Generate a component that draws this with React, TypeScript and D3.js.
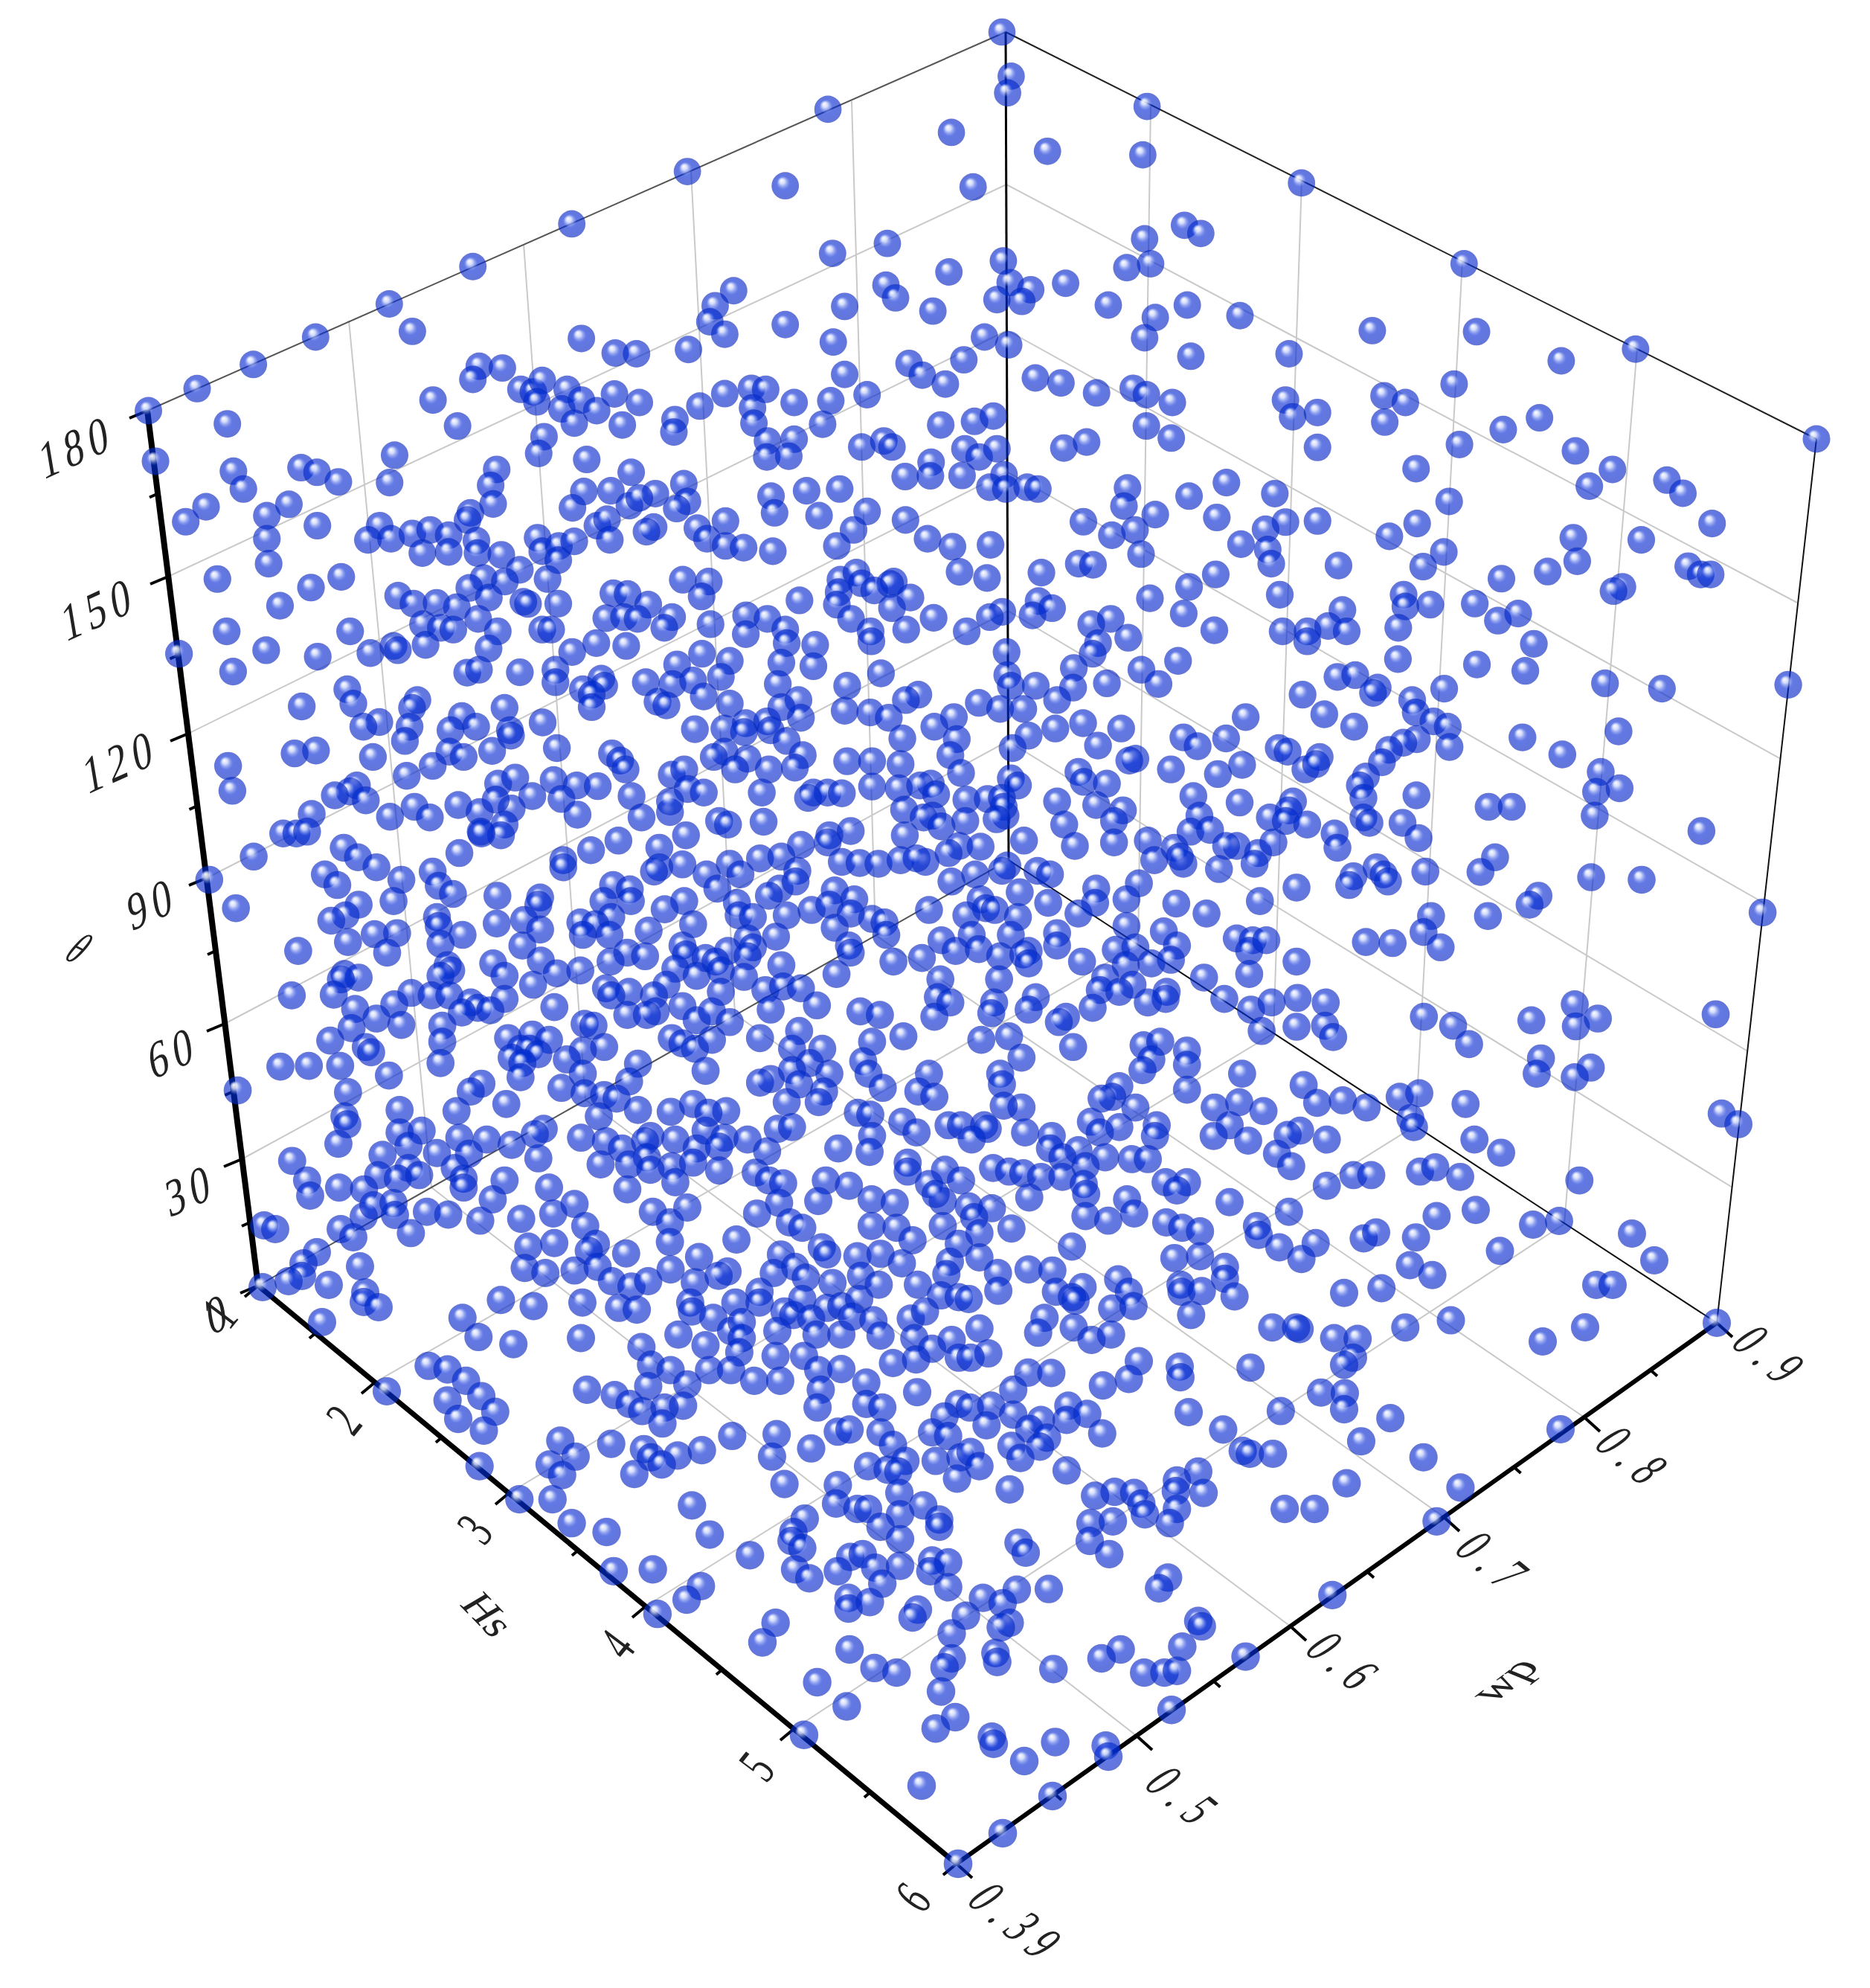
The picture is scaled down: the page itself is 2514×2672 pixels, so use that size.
import React, { useMemo } from "react";
import * as d3 from "d3";

// ---- axis ticks -----------------------------------------------------------
const hsMajor = [1, 2, 3, 4, 5, 6];
const hsAll = [1, 1.5, 2, 2.5, 3, 3.5, 4, 4.5, 5, 5.5, 6];
const wpMajor = [0.39, 0.5, 0.6, 0.7, 0.8, 0.9];
const wpMinor = [0.45, 0.55, 0.65, 0.75, 0.85];
const thetaMajor = [0, 30, 60, 90, 120, 150, 180];
const thetaMinor = [15, 45, 75, 105, 135, 165];

const tileA = [208,945,345,883,503,815,678,738,885,645,1120,540,1398,420,430,982,228,1087,950,722,1425,742,1520,783,1580,785,1138,820,1203,825,1120,857,1008,915,1077,988,1255,885,1290,892,1315,860,1385,885,1300,920,1370,940,1425,915,1405,980,1468,945,1518,898,1540,985,1320,1018,1305,1065,1440,1082,900,1070,886,1147,1187,1110,1170,1155,1177,1207,1113,1232,1105,1252,1565,1118,447,1115,475,1165,637,1105,682,1118,742,1145,370,1215,313,1257,603,1208,541,1240,683,1268,541,1305,546,1375,402,1418,665,1442,750,1412,578,1493,428,1565,1432,1172,1508,1170,1400,1218,1560,1212,1470,1268,1497,1250,1505,1308,858,1268,825,1308,890,1305,950,1290,1000,1280,1052,1295,978,1345,1052,1342,1130,1310,1133,1345,1200,1350,1252,1392,1302,1302,1315,1340,1362,1325,1405,1312,1360,1365,1330,1418,1150,1415,1110,1443,1210,1425,1165,1470,910,1465,953,1487,1018,1485,1075,1497,1135,1530,1262,1482,1275,1488,1360,1487,1515,1458,1555,1460,1495,1528,1545,1525,980,1545,1030,1555,1065,1560,1190,1565,1315,1560,1340,1560,775,1565];
const tileB = [1065,5,1055,52,550,98,1447,90,155,273,897,163,1167,216,1435,226,430,313,958,316,1552,424,1440,462,563,503,717,475,1043,524,1390,543,1457,532,890,555,1218,587,285,608,233,650,713,592,740,628,1062,585,1120,605,1025,633,1095,638,1338,648,597,652,845,665,1560,648,218,695,260,730,430,703,1470,683,1440,740,565,752,990,738,1058,760,158,773,15,793,1570,792,778,812,815,845,932,802,597,843,880,870,1133,853,1205,867,1305,895,1408,882,1445,900,1518,922,20,922,260,897,335,882,375,885,190,932,338,937,455,922,558,917,660,900,120,970,117,1005,342,980,535,983,867,985,962,975,1015,960,1445,988,1515,1022,380,1030,455,1025,378,1075,440,1073,645,1047,707,1030,730,1047,840,1090,838,1128,935,1052,975,1075,1025,1052,1213,1050,1277,1033,767,1130,927,1127,1045,1125,1005,1160,1050,1165,1110,1160,1140,1165,10,1117,145,1150,65,1178,20,1190,155,1200,125,1220,490,1170,583,1165,390,1185,400,1232,525,1240,660,1228,768,1252,1392,1162,1382,1213,1470,1237,1268,1257,1348,1295,1413,1280,1565,1185,15,1225,60,1272,40,1285,183,1275,262,1255,210,1305,262,1325,313,1330,395,1340,622,1280,575,1325,830,1305,900,1327,1007,1322,1430,1348,1255,1375,1295,1378,142,1420,215,1425,195,1467,585,1420,630,1400,645,1430,735,1425,725,1432,920,1398,997,1415,1150,1400,680,1450,470,1478,580,1455,575,1490,782,1470,730,1500,1142,1480,1455,1472,1565,1440,45,1490,10,1470,15,1530,112,1525,90,1555,320,1520,380,1530,615,1530,847,1527,1040,1510,1005,1525,1125,1520,1180,1500,1550,1515,1345,1530,1290,1545,220,1545,430,1560,670,1565,770,1560,940,1565];
const tileC = [313,305,770,532,1252,772,30,447,5,415,10,648,140,678,512,720,805,723,278,785,5,792,1043,805,742,870,545,903,605,922,268,915,288,962,358,950,547,977,880,998,982,965,757,1040,358,1048,1083,1058,1187,1110,1122,1157,635,1108,1340,1140,1385,1177,728,1200,102,1147,238,1178,5,1183,75,1245,268,1258,358,1255,212,1278,638,1262,560,1298,1467,1262,1077,1302,1268,1308,143,1320,218,1335,228,1375,713,1342,655,1383,417,1380,875,1417,1005,1397,1088,1368,1400,1382,1435,1405,1463,1405,72,1405,15,1440,252,1462,1215,1440,1190,1452,600,1462,605,1495,675,1490,428,1505,800,1487,865,1535,922,1515,5,1510,68,1562,585,1555,388,1550,260,1565,330,1565,440,1565];
const tileD = [85,60,220,5,330,50,475,68,565,20,623,58,688,38,700,50,778,35,855,5,955,45,978,10,1115,10,1190,55,1258,30,1342,38,1450,0,1555,60,237,110,895,113,928,105,1043,112,1143,105,1143,140,1485,90,558,160,575,200,430,208,755,190,740,212,1000,212,1272,130,1220,160,1280,150,1245,175,1245,210,1397,140,1472,145,1530,135,1430,195,1455,205,1560,180,880,235,648,252,603,265,733,265,720,305,848,275,920,265,1015,275,1107,253,1535,272,1018,290,470,332,410,340,630,350,845,335,885,350,965,333,1147,325,1302,340,1325,360,1340,385,223,375,798,375,725,403,235,445,585,430,565,447,523,458,610,472,982,425,1030,408,1138,415,1078,460,1203,430,1262,432,1160,468,1357,460,1470,400,1505,385,1515,440,1560,450,870,485,458,510,747,490,678,518,790,520,930,505,1020,495,975,470,1205,512,1385,520,1465,505,1465,475,1510,570,378,565,415,565,445,560,933,560,1000,540,990,570,935,565,1320,585,1243,612,1435,605,548,605,588,632,295,630,640,660,873,620,1165,640,1165,660,1500,652,1435,660,1420,672,1568,680,170,695,495,680,710,695,530,710,798,672,815,712,855,735,980,740,1100,745,1305,710,1352,722,1355,755,688,755,1095,765,245,775,590,765,553,795,513,810,810,800,815,825,1055,808,1278,755,1300,800,1505,755,1450,778,978,818,1213,815,1255,820,1100,835,635,848,698,845,882,850,1405,838,1295,850,1530,820,1220,850,560,870,820,875,1050,880,670,900,420,895,1345,900,1395,910,1500,880,1298,925,1102,922,840,935,968,930,1510,905,1565,915,1480,945,550,960,590,970,540,975,520,1018,850,950,820,965,1000,965,1147,958,1213,950,1080,990,1285,1000,1540,965,1455,990,402,1020,738,1013,795,1020,845,1020,1000,1030,905,1040,690,1045,580,1058,640,1085,925,1055,960,1062,880,1068,710,1103,1140,1053,1350,1010,1300,1020,1420,1020,1500,1050,1345,1075,1425,1065,1400,1075,1225,1100,1250,1105,825,1105,570,1112,1540,1090,1010,1140,1078,1130,1125,1145,510,1147,610,1165,825,1150,1280,1165,1220,1175,1045,1170,625,1180,1070,1170,1095,1185,1175,1200,1020,1195,1470,1140,1500,1155,1535,1170,370,1220,450,1218,538,1218,820,1210,1050,1210,1375,1212,1220,1240,1565,1232,1350,1262,675,1245,1045,1250,935,1268,905,1290,1160,1280,250,1287,560,1292,1225,1295,1280,1300,1315,1310,1005,1325,865,1345,705,1342,1375,1342,1467,1347,1530,1325,550,1360,1265,1360,558,1382,533,1437,705,1405,767,1400,950,1425,1215,1420,1110,1395,1085,1410,873,1420,1285,1430,1410,1415,1480,1425,1395,1430,1020,1440,730,1443,403,1485,657,1468,810,1463,900,1465,1095,1478,1330,1450,1400,1475,1540,1450,1565,1400,730,1505,860,1505,1270,1495,1350,1495,1470,1500,760,1525,645,1525,700,1535,445,1540,885,1535,1000,1540,1410,1510,1530,1490,535,1560,605,1565,885,1560,1125,1560,1345,1565,1480,1545];
const tileE = [110,5,225,30,305,35,463,25,565,10,750,15,843,55,1100,30,1085,60,1185,15,1425,5,65,80,210,85,300,95,490,115,40,125,1222,105,1325,80,1032,100,200,145,395,150,595,175,845,120,925,150,855,150,1125,143,1030,155,1270,145,560,190,765,198,985,190,65,200,258,190,388,220,460,225,825,215,890,215,1515,238,512,240,110,255,265,240,170,250,210,210,695,238,980,270,1058,255,1165,270,1340,295,640,265,1380,320,1460,298,50,270,180,275,105,280,905,290,225,305,550,298,703,300,1100,318,860,325,50,335,270,345,115,355,685,345,395,362,465,362,545,370,175,385,248,380,80,385,20,350,1205,355,1305,385,1045,392,1437,398,1505,372,1188,360,715,395,855,410,1060,420,1125,425,875,430,155,450,465,433,540,438,300,450,340,450,380,452,630,425,600,430,645,455,1368,460,985,475,730,470,790,468,830,465,285,465,1498,478,10,450,1095,485,555,498,840,515,835,490,1170,500,635,515,610,520,727,530,160,532,35,530,60,540,1005,540,660,545,815,525,1385,515,1145,530,345,570,405,558,340,590,557,570,892,585,1240,585,1360,560,1415,555,265,597,1035,600,1145,590,1315,605,1490,600,1460,600,1550,620,710,600,770,602,680,620,65,650,150,635,210,630,380,645,430,648,483,650,545,640,615,645,590,635,1258,640,1340,650,1440,665,1330,630,1540,650,845,655,95,680,255,670,755,680,688,700,830,670,930,670,965,680,1215,705,30,720,205,720,880,730,1095,720,175,740,250,700,360,725,415,750,960,760,85,760,770,750,1092,760,1180,750,1320,762,1555,755,225,795,295,780,345,765,625,780,730,795,785,775,810,780,465,805,500,815,1045,790,1405,790,90,795,130,800,875,800,405,790,360,830,1180,825,1285,840,195,855,115,860,660,865,745,850,855,850,985,845,505,850,1490,860,1535,865,1322,880,130,885,400,880,60,895,1150,892,1205,885,405,900,525,925,605,915,700,895,765,890,825,910,905,895,890,905,1055,925,985,880,1525,895,25,925,115,910,1250,930,1305,920,210,935,40,950,105,968,365,960,905,930,1178,935,657,975,822,975,1398,970,1525,960,1120,970,165,1005,215,995,265,1000,40,1010,1105,1005,1197,990,1160,1010,1293,1010,650,1025,808,1040,925,1025,1290,1030,310,1048,180,1060,15,1065,432,1065,487,1075,685,1040,640,1080,905,1060,800,1070,1010,1080,990,1095,1085,1055,1240,1040,1530,1060,1455,1030,65,1095,260,1120,150,1140,465,1150,553,1135,772,1145,850,1135,15,1145,885,1195,1030,1165,1560,1120,1228,1160,1275,1150,1350,1175,240,1170,325,1170,440,1205,290,1210,1250,1200,1225,1230,1350,1215,1505,1240,825,1240,180,1255,150,1265,240,1230,345,1240,260,1270,455,1240,495,1280,625,1240,595,1290,640,1305,1160,1275,830,1270,1350,1285,330,1290,1140,1305,1110,1310,225,1320,315,1320,885,1335,55,1345,1205,1335,835,1330,1428,1335,1497,1320,425,1350,460,1355,200,1395,240,1390,5,1350,550,1375,680,1385,715,1385,780,1385,790,1395,1080,1375,1265,1385,1160,1390,1470,1385,1565,1345,50,1420,115,1425,35,1445,465,1415,590,1405,745,1425,895,1405,970,1415,1105,1405,1260,1415,370,1450,170,1458,458,1460,965,1450,1425,1415,1522,1428,1045,1455,1000,1475,1120,1475,1195,1480,1240,1480,565,1490,35,1512,138,1518,565,1515,670,1510,805,1505,1065,1500,850,1515,890,1520,175,1540,215,1548,335,1540,400,1555,625,1550,715,1540,940,1530,1000,1530,1290,1545,1350,1545,1060,1550];
const tileF = [40,20,120,25,235,20,375,5,757,32,375,75,597,90,733,108,957,143,1117,158,1472,147,205,125,255,120,107,175,318,155,305,170,505,158,415,190,425,225,168,230,252,265,475,250,515,265,995,278,725,295,520,322,428,300,390,310,350,330,40,325,65,335,330,365,837,343,155,350,115,385,145,370,945,392,285,405,268,430,998,438,932,448,427,458,630,490,695,490,80,475,68,500,278,465,278,520,295,535,928,515,1228,558,15,520,60,530,120,540,388,535,197,565,433,578,205,605,25,590,5,630,648,632,607,673,452,672,250,685,238,710,315,660,335,680,347,700,918,688,1060,695,90,717,770,740,745,765,1400,787,5,770,628,797,468,797,447,842,285,870,360,873,495,885,90,925,5,865,20,1040,93,1027,172,1040,448,1080,872,1045,937,1085,875,1107,750,1090,1268,1073,90,1108,170,1105,193,1137,530,1105,575,1157,15,1120,777,1197,765,1240,917,1223,872,1250,110,1272,148,1322,220,1315,287,1335,380,1305,435,1295,20,1347,565,1325,410,1365,420,1390,1285,1352,1332,1382,100,1400,65,1412,175,1425,590,1425,665,1462,35,1465,75,1500,250,1525,300,1525,437,1515,480,1503,550,1530,175,1555,885,1540];
const tileG = [50,60,110,68,5,120,235,25,200,85,315,80,405,65,465,38,160,5,390,5,615,20,685,60,782,48,733,90,495,100,525,150,335,158,408,148,610,177,733,145,920,138,978,65,1040,35,1150,30,1070,90,1105,105,1300,25,1365,35,1300,100,1370,105,1500,30,1480,10,1500,100,325,218,383,232,465,225,505,170,530,215,570,255,625,270,672,255,735,222,815,187,895,228,870,240,1045,180,1085,215,1025,232,1115,245,1160,160,1190,260,1175,180,1260,185,1325,178,1415,140,1385,205,1430,265,1270,240,1320,265,1520,200,1545,150,1510,235,258,308,350,325,487,315,590,330,640,335,803,258,790,315,795,340,855,358,917,315,985,285,985,315,1055,340,1080,350,1105,305,1175,330,1215,325,1265,305,1410,360,1450,340,1495,295,1545,300,150,358,195,412,293,432,483,415,757,405,833,435,905,395,935,370,935,415,928,455,1035,395,1130,360,1145,405,1215,405,1245,355,1305,365,1325,408,1420,415,1470,445,1525,420,1545,470,653,440,680,490,735,505,843,505,905,505,1030,465,1110,465,1150,505,1215,502,1360,485,1425,475,55,493,108,503,160,535,970,535,1043,535,1285,540,1428,567,672,550,782,545,500,560,578,575,1157,560,203,578,108,590,620,600,770,605,718,610,655,620,1148,610,1285,600,1330,610,1545,600,242,622,138,642,712,655,1205,678,1238,672,1505,635,1325,680,210,675,1033,685,908,690,1470,680,1515,690,1360,715,425,703,568,712,660,727,755,745,823,730,1130,725,1020,748,680,750,710,770,468,748,1395,760,1480,760,1550,750,395,770,430,800,198,775,633,797,1290,775,1345,785,1375,790,1540,810,310,868,403,868,795,885,1055,825,1205,828,1378,850,1200,880,1260,895,1290,895,1445,885,1380,910,457,935,555,960,845,967,1112,922,1080,960,1075,985,1105,1005,1325,945,1490,925,1380,980,1490,945,958,1025,1240,1030,1275,1022,1310,1060,1380,1055,1470,1040,1515,1045,1465,1070,1205,1070,575,1070,685,1065,1085,1065,1125,1090,1330,1105,1515,1115,820,1112,780,1150,1235,1145,1295,1157,1235,1175,1430,1178,1415,1200,698,1190,1030,1215,1565,1195,993,1270,1525,1245,1238,1290,1525,1315,1505,1340,1308,1342,1370,1355,1147,1382,1495,1408,1230,1450,1535,1480,1480,1512,1110,1530];
const tileH = [175,20,5,45,70,50,335,10,450,25,470,65,333,72,397,85,738,33,905,60,1010,0,1320,72,1430,55,590,0,20,75,125,107,35,120,560,90,605,105,655,115,815,100,820,125,878,160,980,148,940,193,1115,135,1150,118,1262,132,1498,170,295,158,35,188,583,190,655,185,725,215,87,232,173,222,240,225,1245,210,1308,238,725,248,600,265,603,285,660,283,752,298,1060,288,1165,275,88,282,425,250,250,285,325,272,295,300,305,310,455,285,5,305,408,332,468,325,630,350,218,358,858,385,935,390,925,385,1032,415,1098,417,1232,385,1360,365,35,388,200,400,300,385,350,420,405,405,60,458,10,470,483,480,598,495,600,525,797,498,1085,470,1060,490,172,512,237,513,455,530,382,548,130,560,995,568,1062,570,1060,615,285,605,8,610,68,605,280,645,338,628,130,630,55,660,1190,640,208,645,175,670,623,623,882,620,720,672,380,683,225,695,1108,705,125,718,205,720,775,732,150,752,795,740,860,740,10,735,35,775,280,787,1283,750,650,790,590,815,120,840,1067,823,1387,835,415,847,360,858,470,850,665,850,587,845,590,895,490,880,893,895,977,895,500,910,570,935,1320,930,347,935,410,930,345,985,400,1022,145,990,165,1018,565,1088,540,1118,140,1122,230,1120,1027,1137,45,1145,100,1160,15,1198,120,1215,95,1228,650,1210,660,1225,605,1282,80,1300,85,1325,432,1290,378,1315,243,1345,783,1310,498,1355,555,1355,590,1350,575,1460,70,1535,75,1555,248,1550,390,1560];
const looseValues = [1347,43,1360,95,2442,590,355,1647,370,1652,417,1607,455,1605,491,1607,458,1652,475,1663,489,1635,502,1620,529,1617,531,1633,542,1658,426,1683,408,1698,406,1715,388,1722,353,1730,442,1727,484,1702,491,1737,489,1750,509,1757,433,1777,520,1870,1239,2400,1288,2505,1348,2464,1415,2414,1490,2361,1377,2367,2194,1658,2224,1694,2146,1727,2168,1727,2131,1784,2074,1803,2308,1778,2098,1921,2061,1646,2096,1641];

// tile origins in the reference's own pixels
const tileOrigins = [[100,100],[850,100],[1600,100],[200,850],[950,850],[1700,850],[550,1600],[1300,1600]];
const tiles = [tileA, tileB, tileC, tileD, tileE, tileF, tileG, tileH];
const TILE_READ = 1568, TILE_SPAN = 750;
const SEAM_GAP = 13; // a ball read twice, once on each side of a tile seam

// ---- piecewise edge scales (perspective: each cube edge has its own spacing) --------------
const pw = (dom: number[], xs: number[], ys: number[]) => {
  const fx = d3.scaleLinear().domain(dom).range(xs);
  const fy = d3.scaleLinear().domain(dom).range(ys);
  return (v: number): [number, number] => [fx(v), fy(v)];
};
const hs6 = [1,2,3,4,5,6];
const wp6 = wpMajor;
const hsFront = pw(hsAll, [347,424,504,594,684,777,868,971,1067,1170,1286], [1728,1792,1858,1932,2007,2084,2159,2244,2324,2409,2505]);
const hsBack = pw(hs6, [1356,1530,1712,1903,2103,2308], [1156,1270,1389,1513,1645,1778]);
const hsTop = pw(hs6, [1352,1547,1750,1966,2201,2442], [43,141,242,351,468,590]);
const wpLeft = pw(wp6, [347,580,787,988,1177,1356], [1728,1596,1478,1363,1257,1156]);
const wpFront = pw(wp6, [1286,1528,1735,1941,2130,2308], [2505,2333,2186,2039,1905,1778]);
const wpTop = pw(wp6, [198,469,704,929,1145,1352], [552,431,328,230,136,43]);
const thetaFront = pw(thetaMajor, [347,325,302,278,253,226,198], [1728,1558,1376,1180,986,775,552]);
const thetaBack = pw(thetaMajor, [1356,1355,1355,1354,1354,1353,1352], [1156,996,821,634,444,248,43]);
const thetaRight = pw(thetaMajor, [2308,2329,2348,2372,2394,2416,2442], [1778,1596,1412,1214,1020,810,590]);

const seg = (a: [number, number], b: [number, number]) => `M${a[0]},${a[1]}L${b[0]},${b[1]}`;

type Mat = [number, number, number, number];
type Lab = { t: string; x: number; y: number; m: Mat; ls: number };
const FONT = '"Liberation Serif", serif';
const thetaM: Mat = [0.86, -0.39, 0.2, 1.2];
const hsM: Mat = [0.5, -0.62, 1.02, 0.77];
const wpM: Mat = [0.62, 0.51, -1.06, 0.72];
const labelPos = {
  theta: [[295,1765],[256,1599],[233,1414],[205,1214],[162,1023],[133,818],[103,600]],
  hs: [[295,1765],[462,1908],[638,2055],[829,2210],[1017,2374],[1227,2550]],
  wp: [[1370,2585],[1594,2417],[1810,2236],[2011,2101],[2199,1960],[2383,1824]],
};

function Ball({ x, y, r }: { x: number; y: number; r: number }) {
  return (
    <g>
      <circle cx={x} cy={y} r={r} fill="rgb(245,225,220)" style={{ mixBlendMode: "multiply" }} />
      <circle cx={x} cy={y} r={r} fill="url(#ball)" />
    </g>
  );
}

export default function App() {
  const points = useMemo(() => {
    const out: { x: number; y: number; tile: number }[] = [];
    const add = (x: number, y: number, tile: number) => {
      const twice = out.some((p) => p.tile !== tile && Math.hypot(p.x - x, p.y - y) < SEAM_GAP);
      if (!twice) out.push({ x, y, tile });
    };
    tiles.forEach((vals, i) => {
      const [ox, oy] = tileOrigins[i];
      const sx = d3.scaleLinear().domain([0, TILE_READ]).range([ox, ox + TILE_SPAN]);
      const sy = d3.scaleLinear().domain([0, TILE_READ]).range([oy, oy + TILE_SPAN]);
      for (let k = 0; k < vals.length; k += 2) add(sx(vals[k]), sy(vals[k + 1]), i);
    });
    for (let k = 0; k < looseValues.length; k += 2) add(looseValues[k], looseValues[k + 1], -1);
    return out;
  }, []);
  const rScale = d3.scaleLinear().domain([40, 2500]).range([18.3, 19.3]);

  const grid: string[] = [];
  wpMajor.slice(1, 5).forEach((w) => {
    grid.push(seg(wpLeft(w), wpFront(w)));
    grid.push(seg(wpLeft(w), wpTop(w)));
  });
  hs6.slice(1, 5).forEach((h) => {
    grid.push(seg(hsFront(h), hsBack(h)));
    grid.push(seg(hsBack(h), hsTop(h)));
  });
  thetaMajor.slice(1, 6).forEach((t) => {
    grid.push(seg(thetaFront(t), thetaBack(t)));
    grid.push(seg(thetaBack(t), thetaRight(t)));
  });

  const labels: Lab[] = [
    ...thetaMajor.map((t, i) => ({ t: String(t), x: labelPos.theta[i][0], y: labelPos.theta[i][1], m: thetaM, ls: 9 })),
    ...hsMajor.map((t, i) => ({ t: String(t), x: labelPos.hs[i][0], y: labelPos.hs[i][1], m: hsM, ls: 0 })),
    ...wpMajor.map((t, i) => ({ t: String(t), x: labelPos.wp[i][0], y: labelPos.wp[i][1], m: wpM, ls: 17 })),
    { t: "θ", x: 106, y: 1275, m: [0.6, 0.3, -0.75, 0.85], ls: 0 },
    { t: "Hs", x: 656, y: 2170, m: [0.7, 0.72, -0.85, 0.5], ls: 0 },
    { t: "wp", x: 2022, y: 2258, m: [0.93, -0.72, 0.92, 0.38], ls: 0 },
  ];

  return (
    <svg width={2514} height={2672} viewBox="0 0 2514 2672"
      style={{ position: "absolute", left: 0, top: 0, display: "block", background: "#fff" }}>
      <defs>
        <radialGradient id="ball" cx="0.5" cy="0.5" r="0.5" fx="0.36" fy="0.3">
          <stop offset="0" stopColor="#ffffff" stopOpacity={0.97} />
          <stop offset="0.2" stopColor="#cfdbff" stopOpacity={0.88} />
          <stop offset="0.5" stopColor="rgb(0,50,233)" stopOpacity={0.6} />
          <stop offset="1" stopColor="rgb(0,46,215)" stopOpacity={0.6} />
        </radialGradient>
      </defs>
      <rect width={2514} height={2672} fill="#fff" />
      <path d={grid.join("")} fill="none" stroke="#c9c9c9" strokeWidth={2} />
      {/* cube frame */}
      <path d={seg(wpLeft(0.39), wpLeft(0.9))} stroke="#555" strokeWidth={2} />
      <path d={seg(hsBack(1), hsBack(6))} stroke="#111" strokeWidth={2} />
      <path d={seg(wpTop(0.39), wpTop(0.9))} stroke="#555" strokeWidth={2} />
      <path d={seg(hsTop(1), hsTop(6))} stroke="#222" strokeWidth={2} />
      <path d={seg(thetaRight(0), thetaRight(180))} stroke="#111" strokeWidth={2} />
      <path d={seg(thetaBack(0), thetaBack(180))} stroke="#000" strokeWidth={3} />
      {/* axes */}
      <path d={seg(thetaFront(0), thetaFront(180))} stroke="#000" strokeWidth={8} />
      <path d={seg(hsFront(1), hsFront(6))} stroke="#000" strokeWidth={7} />
      <path d={seg(wpFront(0.39), wpFront(0.9))} stroke="#000" strokeWidth={6} />
      <g stroke="#000" strokeWidth={4}>
        {thetaMajor.map((t) => { const p = thetaFront(t); return <line key={t} x1={p[0]} y1={p[1]} x2={p[0] - 24} y2={p[1] + 10} />; })}
        {thetaMinor.map((t) => { const p = thetaFront(t); return <line key={t} x1={p[0]} y1={p[1]} x2={p[0] - 11} y2={p[1] + 5} />; })}
        {hsAll.map((h) => { const p = hsFront(h); const q = Number.isInteger(h) ? 1 : 0.45; return <line key={h} x1={p[0]} y1={p[1]} x2={p[0] - 18 * q} y2={p[1] + 15 * q} />; })}
        {wpMajor.map((w) => { const p = wpFront(w); return <line key={w} x1={p[0]} y1={p[1]} x2={p[0] + 21} y2={p[1] + 19} />; })}
        {wpMinor.map((w) => { const p = wpFront(w); return <line key={w} x1={p[0]} y1={p[1]} x2={p[0] + 9} y2={p[1] + 8} />; })}
      </g>
      <g>
        {points.map((d, i) => <Ball key={i} x={d.x} y={d.y} r={rScale(d.y)} />)}
      </g>
      <g fontFamily={FONT} fontSize={58} fill="#222" textAnchor="middle">
        {labels.map((l, i) => (
          <text key={i} dominantBaseline="central" letterSpacing={l.ls}
            transform={`matrix(${l.m.join(",")},${l.x},${l.y})`}>{l.t}</text>
        ))}
      </g>
    </svg>
  );
}
